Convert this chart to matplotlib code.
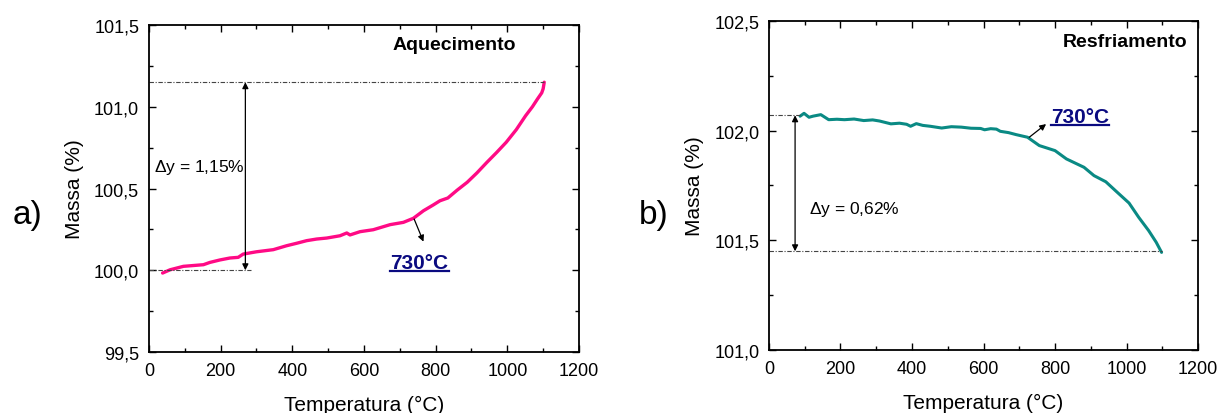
import numpy as np
import matplotlib
matplotlib.use("Agg")
import matplotlib.pyplot as plt
from matplotlib.lines import Line2D
from matplotlib.ticker import MultipleLocator, FixedLocator, FixedFormatter

plt.rcParams['font.family'] = ['Liberation Sans', 'DejaVu Sans']
plt.rcParams['mathtext.fontset'] = 'custom'
plt.rcParams['mathtext.it'] = 'Liberation Sans:italic'
plt.rcParams['mathtext.rm'] = 'Liberation Sans'

# heating run (a)
temp_heat = [38, 59, 96, 152, 170, 198, 226, 249, 263, 300, 347, 384, 412, 440, 468,
             496, 533, 552, 561, 589, 626, 673, 710, 738, 766, 793, 812, 834, 860,
             888, 915, 943, 970, 997, 1025, 1051, 1070, 1084, 1096, 1100, 1103]
mass_heat = [99.983, 100.003, 100.024, 100.034, 100.048, 100.063, 100.075, 100.079,
             100.099, 100.113, 100.126, 100.150, 100.165, 100.181, 100.191, 100.197,
             100.211, 100.228, 100.216, 100.236, 100.248, 100.279, 100.293, 100.318,
             100.364, 100.399, 100.425, 100.442, 100.490, 100.538, 100.595, 100.660,
             100.720, 100.783, 100.860, 100.945, 101.000, 101.047, 101.085, 101.110,
             101.150]

# cooling run (b)
temp_cool = [87, 98, 112, 123, 145, 167, 190, 211, 238, 265, 290, 309, 341, 365, 385,
             396, 412, 430, 451, 483, 510, 538, 565, 592, 603, 620, 636, 647, 670, 691,
             723, 756, 800, 832, 881, 909, 942, 974, 1007, 1034, 1062, 1083, 1098]
mass_cool = [102.066, 102.079, 102.061, 102.066, 102.073, 102.050, 102.052, 102.050,
             102.053, 102.046, 102.049, 102.044, 102.031, 102.034, 102.029, 102.020,
             102.032, 102.024, 102.020, 102.012, 102.018, 102.016, 102.011, 102.010,
             102.004, 102.009, 102.007, 101.997, 101.991, 101.982, 101.970, 101.932,
             101.909, 101.871, 101.833, 101.795, 101.767, 101.719, 101.670, 101.605,
             101.544, 101.491, 101.445]

xticks = [0, 200, 400, 600, 800, 1000, 1200]
yticks_heat = [99.5, 100.0, 100.5, 101.0, 101.5]
yticks_cool = [101.0, 101.5, 102.0, 102.5]

heat_top, heat_bottom = 101.15, 100.0
cool_top, cool_bottom = 102.07, 101.45
onset = 730

fig = plt.figure(figsize=(12.21, 4.14), dpi=100)
ax1 = fig.add_axes([0.1220, 0.1473, 0.3522, 0.7899])
ax2 = fig.add_axes([0.6298, 0.1522, 0.3514, 0.7947])


def comma(v):
    return f"{v:.1f}".replace(".", ",")


def style_axes(ax, yticks):
    ax.set_xlim(0, 1200)
    ax.set_ylim(yticks[0], yticks[-1])
    ax.xaxis.set_major_locator(FixedLocator(xticks))
    ax.xaxis.set_major_formatter(FixedFormatter([str(t) for t in xticks]))
    ax.xaxis.set_minor_locator(MultipleLocator(100))
    ax.yaxis.set_major_locator(FixedLocator(yticks))
    ax.yaxis.set_major_formatter(FixedFormatter([comma(t) for t in yticks]))
    ax.yaxis.set_minor_locator(MultipleLocator(0.25))
    ax.tick_params(which='both', direction='in', top=True, right=True,
                   labelsize=13, width=1.0, pad=7)
    ax.tick_params(which='major', length=5)
    ax.tick_params(which='minor', length=3)
    for s in ax.spines.values():
        s.set_linewidth(1.3)
    ax.set_xlabel("Temperatura (°C)", fontsize=15, labelpad=12)
    ax.set_ylabel("Massa (%)", fontsize=15, labelpad=7)


style_axes(ax1, yticks_heat)
style_axes(ax2, yticks_cool)

ref_style = dict(color='#444444', linewidth=0.8, linestyle=(0, (4, 1.5, 1, 1.5)))
arrow_style = dict(arrowstyle='<|-|>', color='black', lw=0.9,
                   mutation_scale=9, shrinkA=0, shrinkB=0)
navy = '#0a0a80'

# (a) heating
ax1.plot(temp_heat, mass_heat, color='#ff0a85', linewidth=2.4, solid_capstyle='round')
ax1.plot([0, temp_heat[-1]], [heat_top, heat_top], **ref_style)
ax1.plot([0, 284], [heat_bottom, heat_bottom], **ref_style)
ax1.annotate('', xy=(269, heat_top), xytext=(269, heat_bottom), arrowprops=arrow_style)
ax1.text(13, 100.635, r"$\mathit{\Delta}$y = 1,15%", fontsize=12.5, va='center')
ax1.annotate('', xy=(766, 100.175), xytext=(740, 100.313),
             arrowprops=dict(arrowstyle='-|>', color='black', lw=0.9,
                             mutation_scale=9, shrinkA=0, shrinkB=0))
lab1 = ax1.text(755, 100.05, f"{onset}°C", fontsize=15, fontweight='bold',
                color=navy, ha='center', va='center')
ax1.text(0.853, 0.94, "Aquecimento", transform=ax1.transAxes, fontsize=14,
         fontweight='bold', ha='right', va='center')

# (b) cooling
ax2.plot(temp_cool, mass_cool, color='#0a8a84', linewidth=2.2, solid_capstyle='round')
ax2.plot([0, temp_cool[0]], [cool_top, cool_top], **ref_style)
ax2.plot([0, temp_cool[-1]], [cool_bottom, cool_bottom], **ref_style)
ax2.annotate('', xy=(73, cool_top), xytext=(73, cool_bottom), arrowprops=arrow_style)
ax2.text(113, 101.643, r"$\mathit{\Delta}$y = 0,62%", fontsize=12.5, va='center')
ax2.annotate('', xy=(775, 102.03), xytext=(728, 101.97),
             arrowprops=dict(arrowstyle='-|>', color='black', lw=0.9,
                             mutation_scale=9, shrinkA=0, shrinkB=0))
lab2 = ax2.text(870, 102.065, f"{onset}°C", fontsize=15, fontweight='bold',
                color=navy, ha='center', va='center')
ax2.text(0.974, 0.938, "Resfriamento", transform=ax2.transAxes, fontsize=14,
         fontweight='bold', ha='right', va='center')

fig.text(0.010, 0.48, "a)", fontsize=24, va='center')
fig.text(0.523, 0.48, "b)", fontsize=24, va='center')

# underline the onset labels
fig.canvas.draw()
renderer = fig.canvas.get_renderer()
inv = fig.transFigure.inverted()
for lab in (lab1, lab2):
    bb = lab.get_window_extent(renderer)
    (x0, y0), (x1, _) = inv.transform([(bb.x0, bb.y0 + 1), (bb.x1, bb.y0 + 1)])
    fig.add_artist(Line2D([x0, x1], [y0, y0], color=navy, linewidth=1.6,
                          transform=fig.transFigure))

fig.savefig("out.png", dpi=100)
